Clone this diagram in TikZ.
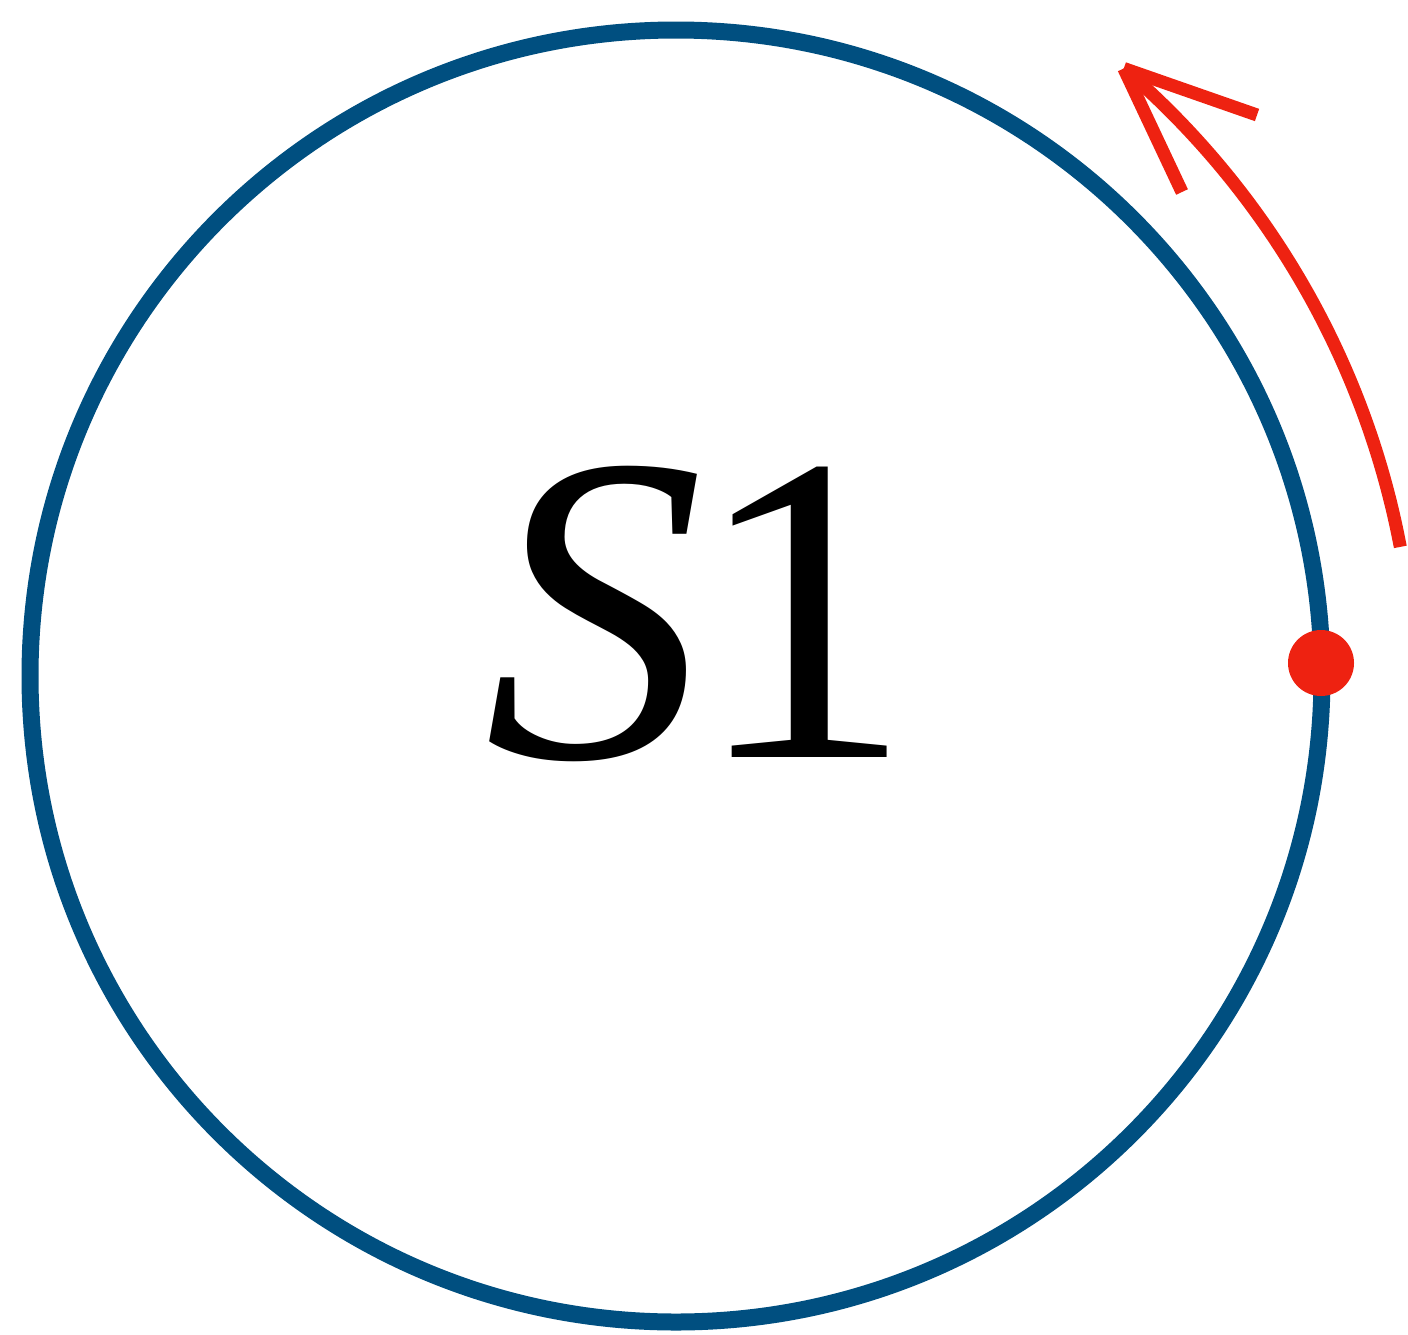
\documentclass[tikz,border=0pt]{standalone}
\usepackage{fontspec}
\setmainfont{Liberation Serif}[ItalicFont={Liberation Serif Italic}]
\definecolor{ringblue}{RGB}{0,79,128}
\definecolor{markred}{RGB}{238,34,17}
\begin{document}
\begin{tikzpicture}[x=1pt,y=-1pt,
  ring/.style={draw=ringblue,line width=17pt},
  motion/.style={draw=markred,line width=13pt},
  marker/.style={circle,fill=markred,minimum size=66pt,inner sep=0pt}]
\useasboundingbox (0,0) rectangle (1408,1334);
\draw[ring] (676,676) circle[radius=646];
\node[marker] (dot) at (1321,663) {};
\node[anchor=base,inner sep=0pt,font=\fontsize{440}{440}\selectfont] (lbl) at (699,757) {\itshape S\upshape\kern-11pt 1};
\coordinate (c) at (578,703);
\draw[motion] ([shift={(-10.75:837)}]c) coordinate (start) arc[start angle=-10.75,end angle=-49.3,radius=837] coordinate (tip);
\coordinate (b1) at (1257,115);
\coordinate (b2) at (1182,192);
\draw[motion] (tip) -- (b1);
\draw[motion] (tip) -- (b2);
\end{tikzpicture}
\end{document}
